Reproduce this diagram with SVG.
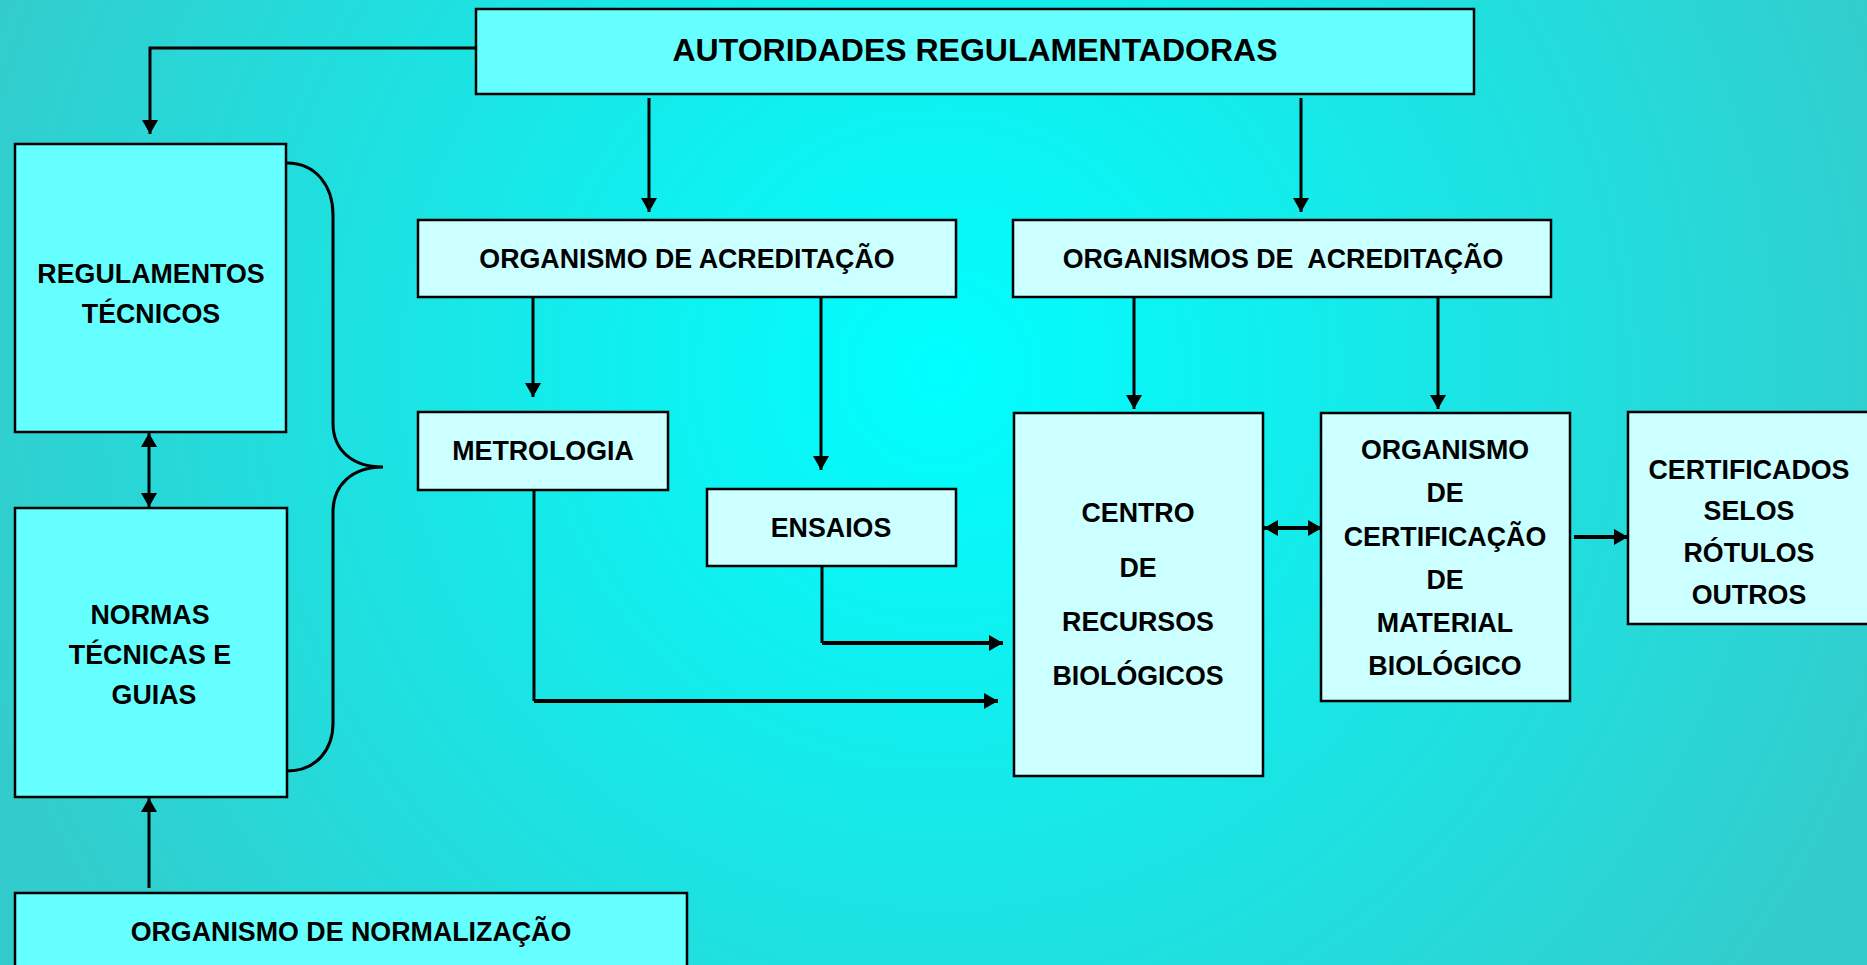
<svg xmlns="http://www.w3.org/2000/svg" width="1867" height="965" viewBox="0 0 1867 965">
<defs>
<radialGradient id="bg" gradientUnits="userSpaceOnUse" cx="940" cy="370" r="1010">
<stop offset="0" stop-color="#00FFFF"/>
<stop offset="1" stop-color="#33CCCC"/>
</radialGradient>
<marker id="ah" viewBox="0 0 14 16" refX="14" refY="8" markerWidth="14" markerHeight="16" markerUnits="userSpaceOnUse" orient="auto-start-reverse">
<path d="M0,0 L14,8 L0,16 Z" fill="#000"/>
</marker>
</defs>
<style>
.b1{fill:#66FFFF;stroke:#000;stroke-width:2.5}
.b2{fill:#CCFFFF;stroke:#000;stroke-width:2.5}
text{font-family:"Liberation Sans",Arial,sans-serif;font-weight:bold;font-size:26.8px;fill:#000;text-anchor:middle}
.t{font-size:32px}
.c{fill:none;stroke:#000;stroke-width:3}
.w{stroke-width:4}
</style>
<rect x="0" y="0" width="1867" height="965" fill="url(#bg)"/>
<g id="connectors">
<path class="c" d="M476,48 H150 V134" marker-end="url(#ah)"/>
<path class="c" d="M649,98 V212" marker-end="url(#ah)"/>
<path class="c" d="M1301,98 V212" marker-end="url(#ah)"/>
<path class="c" d="M533,297 V397" marker-end="url(#ah)"/>
<path class="c" d="M821,297 V470" marker-end="url(#ah)"/>
<path class="c" d="M1134,297 V409" marker-end="url(#ah)"/>
<path class="c" d="M1438,297 V409" marker-end="url(#ah)"/>
<path class="c" d="M534,490 V701"/>
<path class="c w" d="M534,701 H998" marker-end="url(#ah)"/>
<path class="c" d="M822,566 V643"/>
<path class="c w" d="M822,643 H1003" marker-end="url(#ah)"/>
<path class="c w" d="M1264,528 H1322" marker-start="url(#ah)" marker-end="url(#ah)"/>
<path class="c w" d="M1574,537 H1628" marker-end="url(#ah)"/>
<path class="c" d="M149,433 V507" marker-start="url(#ah)" marker-end="url(#ah)"/>
<path class="c" d="M149,888 V798" marker-end="url(#ah)"/>
<path class="c" d="M287,163 C316,163 333,186 333,215 V423 C333,450 352,467 383,467 C352,467 333,485 333,512 V723 C333,750 316,771 287,771"/>
</g>
<g id="autoridades">
<rect class="b1" x="476" y="9" width="998" height="85"/>
<text class="t" x="975" y="61">AUTORIDADES REGULAMENTADORAS</text>
</g>
<g id="regulamentos">
<rect class="b1" x="15" y="144" width="271" height="288"/>
<text x="151" y="283">REGULAMENTOS</text>
<text x="151" y="323">TÉCNICOS</text>
</g>
<g id="normas">
<rect class="b1" x="15" y="508" width="272" height="289"/>
<text x="150" y="624">NORMAS</text>
<text x="150" y="664">TÉCNICAS E</text>
<text x="154" y="704">GUIAS</text>
</g>
<g id="normalizacao">
<rect class="b1" x="15" y="893" width="672" height="90"/>
<text x="351" y="941">ORGANISMO DE NORMALIZAÇÃO</text>
</g>
<g id="acreditacao1">
<rect class="b2" x="418" y="220" width="538" height="77"/>
<text x="687" y="268">ORGANISMO DE ACREDITAÇÃO</text>
</g>
<g id="acreditacao2">
<rect class="b2" x="1013" y="220" width="538" height="77"/>
<text x="1283" y="268" xml:space="preserve">ORGANISMOS DE  ACREDITAÇÃO</text>
</g>
<g id="metrologia">
<rect class="b2" x="418" y="412" width="250" height="78"/>
<text x="543" y="460">METROLOGIA</text>
</g>
<g id="ensaios">
<rect class="b2" x="707" y="489" width="249" height="77"/>
<text x="831" y="537">ENSAIOS</text>
</g>
<g id="centro">
<rect class="b2" x="1014" y="413" width="249" height="363"/>
<text x="1138" y="522">CENTRO</text>
<text x="1138" y="577">DE</text>
<text x="1138" y="631">RECURSOS</text>
<text x="1138" y="685">BIOLÓGICOS</text>
</g>
<g id="certificacao">
<rect class="b2" x="1321" y="413" width="249" height="288"/>
<text x="1445" y="459">ORGANISMO</text>
<text x="1445" y="502">DE</text>
<text x="1445" y="546">CERTIFICAÇÃO</text>
<text x="1445" y="589">DE</text>
<text x="1445" y="632">MATERIAL</text>
<text x="1445" y="675">BIOLÓGICO</text>
</g>
<g id="certificados">
<rect class="b2" x="1628" y="412" width="250" height="212"/>
<text x="1749" y="479">CERTIFICADOS</text>
<text x="1749" y="520">SELOS</text>
<text x="1749" y="562">RÓTULOS</text>
<text x="1749" y="604">OUTROS</text>
</g>
</svg>
